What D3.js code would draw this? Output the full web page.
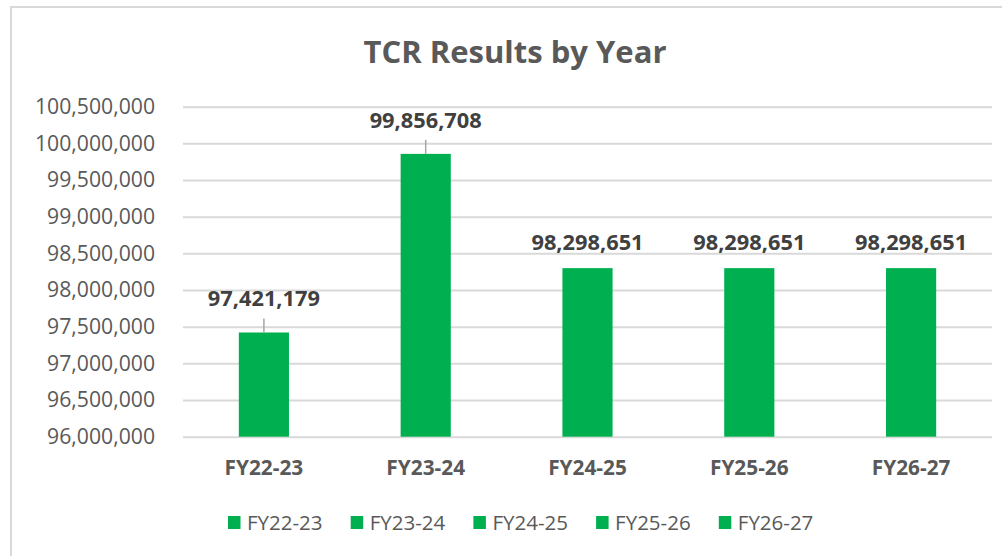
<!DOCTYPE html>
<html>
<head>
<meta charset="utf-8">
<script src="https://cdn.jsdelivr.net/npm/d3@7"></script>
<style>
  body { margin: 0; background: #fff; }
  text { font-family: "Open Sans", sans-serif; }
</style>
</head>
<body>
<div id="chart"></div>
<script>
var years = ["FY22-23", "FY23-24", "FY24-25", "FY25-26", "FY26-27"];
var results = [97421179, 99856708, 98298651, 98298651, 98298651];
var yTicks = [96000000, 96500000, 97000000, 97500000, 98000000, 98500000,
              99000000, 99500000, 100000000, 100500000];

var W = 1002, H = 556;
var GREEN = "#00b050";
var plot = { left: 183, right: 992, top: 106.7, bottom: 436.7 };
// labels that were dragged up get a leader line
var labelLift = [26, 26, 18, 18, 18];

var svg = d3.select("#chart")
   .append("svg")
   .attr("width", W)
   .attr("height", H);

// chart border (right and bottom are cut off)
svg.append("path")
   .attr("d", "M11," + H + " V7 H" + W)
   .attr("fill", "none")
   .attr("stroke", "#d9d9d9")
   .attr("stroke-width", 2);

svg.append("text")
   .attr("x", 515)
   .attr("y", 63)
   .attr("text-anchor", "middle")
   .attr("font-size", 31)
   .attr("font-weight", "bold")
   .attr("fill", "#595959")
   .text("TCR Results by Year");

var x = d3.scaleBand()
   .domain(years)
   .range([plot.left, plot.right])
   .paddingInner(0.69)
   .paddingOuter(0.345);

var y = d3.scaleLinear()
   .domain([96000000, 100500000])
   .range([plot.bottom, plot.top]);

var fmt = d3.format(",");

// gridlines + y labels
var yAxis = d3.axisLeft(y)
   .tickValues(yTicks)
   .tickFormat(fmt)
   .tickSize(-(plot.right - plot.left))
   .tickPadding(28);

var gy = svg.append("g")
   .attr("transform", "translate(" + plot.left + ",0)")
   .call(yAxis);
gy.select(".domain").remove();
gy.selectAll(".tick line").attr("stroke", "#d9d9d9").attr("stroke-width", 2);
gy.selectAll(".tick text")
   .attr("font-size", 21.2)
   .attr("fill", "#595959")
   .attr("font-family", "Open Sans, sans-serif");

// x labels
var xAxis = d3.axisBottom(x).tickSize(0).tickPadding(24);
var gx = svg.append("g")
   .attr("transform", "translate(0," + plot.bottom + ")")
   .call(xAxis);
gx.select(".domain").remove();
gx.selectAll(".tick text")
   .attr("font-size", 20.8)
   .attr("font-weight", "bold")
   .attr("fill", "#595959")
   .attr("font-family", "Open Sans, sans-serif");

// bars
svg.append("g")
   .selectAll("rect")
   .data(results)
   .enter()
   .append("rect")
   .attr("x", function(d, i) { return x(years[i]); })
   .attr("y", function(d) { return y(d); })
   .attr("width", x.bandwidth())
   .attr("height", function(d) { return plot.bottom - y(d); })
   .attr("fill", GREEN);

// leader lines
svg.append("g")
   .selectAll("line")
   .data(results)
   .enter()
   .filter(function(d, i) { return labelLift[i] > 20; })
   .append("line")
   .attr("x1", function(d, i) { return x(years[i]) + x.bandwidth() / 2; })
   .attr("x2", function(d, i) { return x(years[i]) + x.bandwidth() / 2; })
   .attr("y1", function(d, i) { return y(d) - labelLift[i] + 12; })
   .attr("y2", function(d) { return y(d); })
   .attr("stroke", "#a6a6a6")
   .attr("stroke-width", 1.5);

// data labels
svg.append("g")
   .selectAll("text")
   .data(results)
   .enter()
   .append("text")
   .attr("x", function(d, i) { return x(years[i]) + x.bandwidth() / 2; })
   .attr("y", function(d, i) { return y(d) - labelLift[i]; })
   .attr("text-anchor", "middle")
   .attr("font-size", 21.8)
   .attr("font-weight", "bold")
   .attr("fill", "#404040")
   .text(function(d) { return fmt(d); });

// legend
var legend = svg.append("g")
   .selectAll("g")
   .data(years)
   .enter()
   .append("g")
   .attr("transform", function(d, i) { return "translate(" + (228 + i * 122.7) + ",516)"; });

legend.append("rect")
   .attr("width", 12.5)
   .attr("height", 13)
   .attr("fill", GREEN);

legend.append("text")
   .attr("x", 19)
   .attr("y", 13.5)
   .attr("font-size", 20.5)
   .attr("fill", "#595959")
   .text(function(d) { return d; });
</script>
</body>
</html>
